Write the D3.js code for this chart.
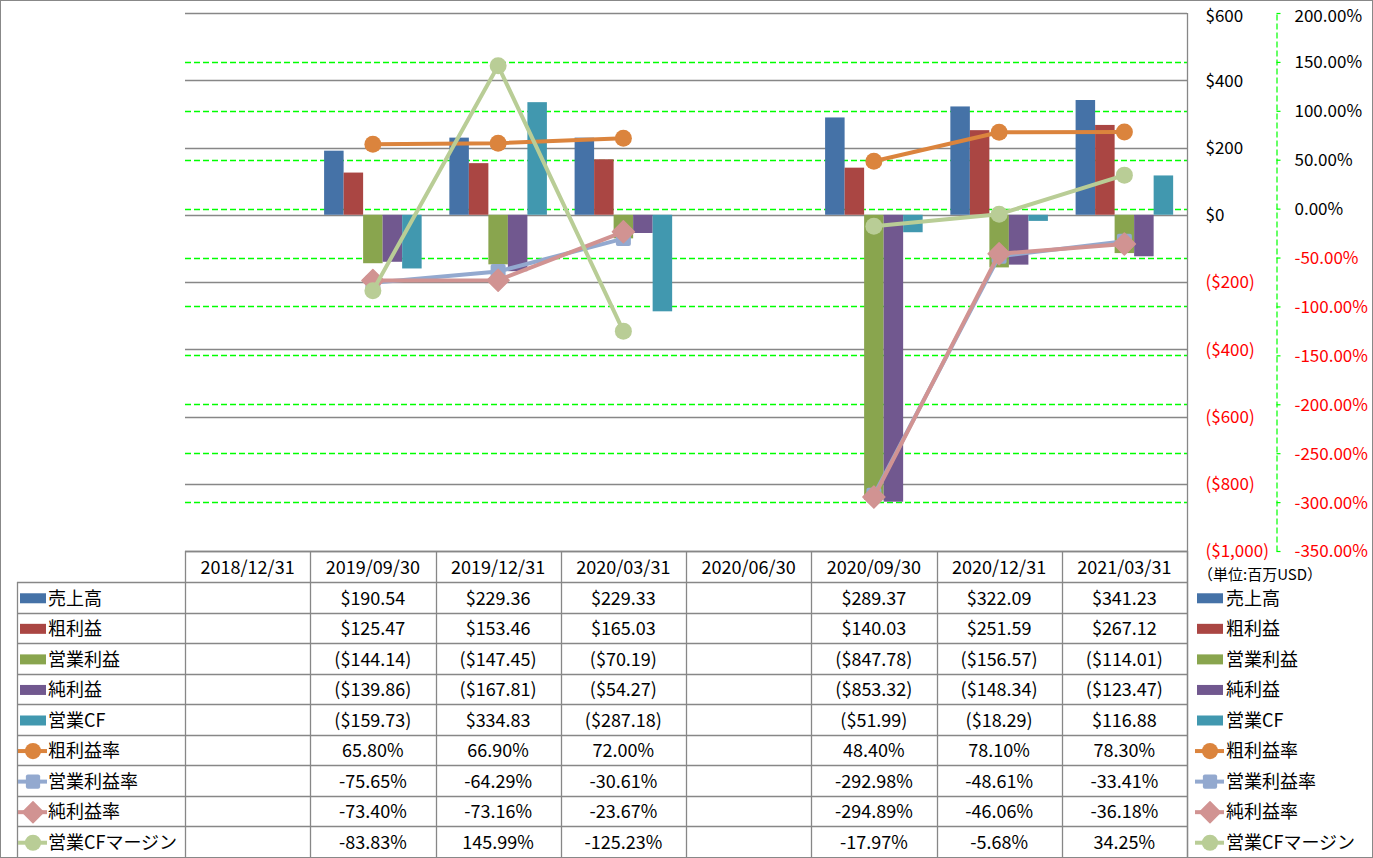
<!DOCTYPE html>
<html>
<head>
<meta charset="utf-8">
<script src="https://cdn.jsdelivr.net/npm/d3@7/dist/d3.min.js"></script>
<style>
  html, body { margin: 0; padding: 0; background: #fff; }
  svg { display: block; font-family: "Noto Sans CJK JP", "Noto Sans", sans-serif; }
</style>
</head>
<body>
<svg id="chart" width="1373" height="858"></svg>
<script>
// ---------- DATA ----------
const categories = ["2018/12/31","2019/09/30","2019/12/31","2020/03/31","2020/06/30","2020/09/30","2020/12/31","2021/03/31"];

const barSeries = ["売上高","粗利益","営業利益","純利益","営業CF"];
const sales        = [null, 190.54, 229.36, 229.33, null, 289.37, 322.09, 341.23];
const grossProfit  = [null, 125.47, 153.46, 165.03, null, 140.03, 251.59, 267.12];
const opProfit     = [null, -144.14, -147.45, -70.19, null, -847.78, -156.57, -114.01];
const netProfit    = [null, -139.86, -167.81, -54.27, null, -853.32, -148.34, -123.47];
const opCF         = [null, -159.73, 334.83, -287.18, null, -51.99, -18.29, 116.88];

const lineSeries = ["粗利益率","営業利益率","純利益率","営業CFマージン"];
const grossMargin  = [null, 65.80, 66.90, 72.00, null, 48.40, 78.10, 78.30];
const opMargin     = [null, -75.65, -64.29, -30.61, null, -292.98, -48.61, -33.41];
const netMargin    = [null, -73.40, -73.16, -23.67, null, -294.89, -46.06, -36.18];
const cfMargin     = [null, -83.83, 145.99, -125.23, null, -17.97, -5.68, 34.25];

const leftTicks  = [600, 400, 200, 0, -200, -400, -600, -800, -1000];
const rightTicks = [200, 150, 100, 50, 0, -50, -100, -150, -200, -250, -300, -350];
const unitLabel = "（単位:百万USD）";

// ---------- STYLE ----------
const barColors  = ["#4572A7","#AA4643","#89A54E","#71588F","#4198AF"];
const lineColors = ["#DB843D","#93A9CF","#D19392","#B9CD96"];
const markerTypes = ["circle","square","diamond","circle"];
const gridGray = "#878787";
const gridGreen = "#00FF00";

const svg = d3.select("#chart");
const plot = {left: 185, right: 1187, top: 13, bottom: 551};
const table = {top: 551, headerBottom: 582, bottom: 857, legendLeft: 17};

const barData = [sales, grossProfit, opProfit, netProfit, opCF];
const lineData = [grossMargin, opMargin, netMargin, cfMargin];

// outer border
svg.append("rect").attr("x",0.5).attr("y",0.5).attr("width",1372).attr("height",857)
  .attr("fill","#fff").attr("stroke","#888").attr("stroke-width",1);

// scales
const x0 = d3.scaleBand().domain(categories).range([plot.left, plot.right]).paddingInner(0).paddingOuter(0);
const x1 = d3.scaleBand().domain(barSeries).range([0, x0.bandwidth()]).paddingInner(0).paddingOuter(0.71);
const yL = d3.scaleLinear().domain([-1000, 600]).range([plot.bottom, plot.top]);
const yR = d3.scaleLinear().domain([-350, 200]).range([plot.bottom, plot.top]);

// green dashed gridlines (secondary)
svg.append("g").selectAll("line").data(rightTicks.filter(t => t !== 200 && t !== -350)).join("line")
  .attr("x1", plot.left).attr("x2", plot.right)
  .attr("y1", d => Math.round(yR(d)) + 0.5).attr("y2", d => Math.round(yR(d)) + 0.5)
  .attr("stroke", gridGreen).attr("stroke-width", 1.3).attr("stroke-dasharray", "6,3");

// gray gridlines (primary)
svg.append("g").selectAll("line").data(leftTicks).join("line")
  .attr("x1", plot.left).attr("x2", plot.right)
  .attr("y1", d => Math.round(yL(d)) + 0.5).attr("y2", d => Math.round(yL(d)) + 0.5)
  .attr("stroke", gridGray).attr("stroke-width", 1.3);

// bars
const barG = svg.append("g");
barSeries.forEach((s, si) => {
  const vals = barData[si];
  barG.append("g").selectAll("rect")
    .data(categories.map((c, i) => ({c, v: vals[i]})).filter(d => d.v !== null))
    .join("rect")
    .attr("x", d => x0(d.c) + x1(s))
    .attr("width", x1.bandwidth())
    .attr("y", d => Math.min(yL(d.v), yL(0)))
    .attr("height", d => Math.abs(yL(d.v) - yL(0)))
    .attr("fill", barColors[si]);
});

// marker drawing helper
function drawMarker(g, type, cx, cy, color, scale) {
  scale = scale || 1;
  if (type === "circle") {
    g.append("circle").attr("cx", cx).attr("cy", cy).attr("r", 8.5*scale).attr("fill", color);
  } else if (type === "square") {
    const s = 15*scale;
    g.append("rect").attr("x", cx - s/2).attr("y", cy - s/2).attr("width", s).attr("height", s)
      .attr("rx", 2).attr("fill", color);
  } else {
    const r = 11*scale;
    g.append("path").attr("d", `M${cx},${cy-r}L${cx+r},${cy}L${cx},${cy+r}L${cx-r},${cy}Z`)
      .attr("fill", color).attr("stroke", color).attr("stroke-width", 1.5).attr("stroke-linejoin","round");
  }
}

// lines
const lineG = svg.append("g");
lineSeries.forEach((s, si) => {
  const vals = lineData[si];
  const pts = categories.map((c, i) => ({c, v: vals[i]}));
  const line = d3.line().defined(d => d.v !== null)
    .x(d => x0(d.c) + x0.bandwidth()/2).y(d => yR(d.v));
  const g = lineG.append("g");
  g.append("path").datum(pts).attr("d", line).attr("fill", "none")
    .attr("stroke", lineColors[si]).attr("stroke-width", 4).attr("stroke-linejoin", "round");
  pts.filter(d => d.v !== null).forEach(d => {
    drawMarker(g, markerTypes[si], x0(d.c) + x0.bandwidth()/2, yR(d.v), lineColors[si]);
  });
});

// primary axis (right side of plot)
const axisFont = 17;
const fmtMoneyAxis = v => v < 0 ? "($" + d3.format(",")(-v) + ")" : "$" + d3.format(",")(v);
const axL = svg.append("g").attr("transform", `translate(${plot.right + 0.5},0)`)
  .call(d3.axisRight(yL).tickValues(leftTicks).tickSize(0).tickPadding(18).tickFormat(fmtMoneyAxis));
axL.select(".domain").remove();
axL.selectAll("text").attr("font-size", axisFont).attr("font-family", '"Noto Sans CJK JP", sans-serif')
  .attr("fill", d => d < 0 ? "#FF0000" : "#000")
  .attr("dy", d => d === leftTicks[0] ? "0.5em" : "0.35em");
svg.append("line").attr("x1", plot.right + 0.5).attr("x2", plot.right + 0.5)
  .attr("y1", plot.top).attr("y2", table.bottom).attr("stroke", gridGray).attr("stroke-width", 1.3);

// secondary axis
const fmtPct = v => v.toFixed(2) + "%";
const axR = svg.append("g").attr("transform", `translate(1276.5,0)`)
  .call(d3.axisRight(yR).tickValues(rightTicks).tickSizeInner(4).tickSizeOuter(0).tickPadding(14).tickFormat(fmtPct));
axR.select(".domain").attr("stroke", gridGreen).attr("stroke-width", 1.2).attr("stroke-dasharray", "6,3");
axR.selectAll(".tick line").attr("stroke", gridGreen).attr("stroke-width", 1.2);
axR.selectAll("text").attr("font-size", axisFont).attr("font-family", '"Noto Sans CJK JP", sans-serif')
  .attr("fill", d => d < 0 ? "#FF0000" : "#000")
  .attr("dy", d => d === rightTicks[0] ? "0.5em" : "0.35em");

// unit label
svg.append("text").attr("x", 1198).attr("y", 575).attr("dy", "0.35em")
  .attr("font-size", 15).attr("fill", "#000").text(unitLabel);

// ---------- DATA TABLE ----------
const tg = svg.append("g");
const nRows = barSeries.length + lineSeries.length;
const rowH = (table.bottom - table.headerBottom) / nRows;
const colEdges = categories.map(c => x0(c)).concat([plot.right]);

// horizontal lines
tg.append("line").attr("x1", plot.left).attr("x2", plot.right).attr("y1", table.top + 0.5).attr("y2", table.top + 0.5)
  .attr("stroke", gridGray).attr("stroke-width", 1.3);
d3.range(nRows).forEach(i => {
  const y = Math.round(table.headerBottom + i*rowH) + 0.5;
  tg.append("line").attr("x1", table.legendLeft).attr("x2", plot.right).attr("y1", y).attr("y2", y)
    .attr("stroke", gridGray).attr("stroke-width", 1.3);
});
// vertical lines
colEdges.forEach(x => {
  tg.append("line").attr("x1", Math.round(x) + 0.5).attr("x2", Math.round(x) + 0.5)
    .attr("y1", table.top).attr("y2", table.bottom).attr("stroke", gridGray).attr("stroke-width", 1.3);
});
tg.append("line").attr("x1", table.legendLeft + 0.5).attr("x2", table.legendLeft + 0.5)
  .attr("y1", table.headerBottom).attr("y2", table.bottom).attr("stroke", gridGray).attr("stroke-width", 1.3);

// header texts
tg.selectAll("text.hdr").data(categories).join("text").attr("class", "hdr")
  .attr("x", c => x0(c) + x0.bandwidth()/2).attr("y", (table.top + table.headerBottom)/2 + 1)
  .attr("dy", "0.35em").attr("text-anchor", "middle").attr("font-size", 18).attr("fill", "#000").text(c => c);

const fmtMoney = v => v < 0 ? "($" + d3.format(",.2f")(-v) + ")" : "$" + d3.format(",.2f")(v);
const allSeries = barSeries.concat(lineSeries);
const allData = barData.concat(lineData);
allSeries.forEach((s, ri) => {
  const yc = table.headerBottom + ri*rowH + rowH/2 + 1;
  const isBar = ri < barSeries.length;
  categories.forEach((c, ci) => {
    const v = allData[ri][ci];
    if (v === null) return;
    tg.append("text").attr("x", x0(c) + x0.bandwidth()/2).attr("y", yc).attr("dy", "0.35em")
      .attr("text-anchor", "middle").attr("font-size", 18).attr("fill", "#000")
      .text(isBar ? fmtMoney(v) : fmtPct(v));
  });
  // legends left and right
  [{sx: 20, tx: 48}, {sx: 1197, tx: 1226}].forEach(pos => {
    const lg = tg.append("g");
    if (isBar) {
      lg.append("rect").attr("x", pos.sx).attr("y", yc - 5).attr("width", 26).attr("height", 10)
        .attr("fill", barColors[ri]);
    } else {
      const li = ri - barSeries.length;
      lg.append("line").attr("x1", pos.sx - 2).attr("x2", pos.sx + 27).attr("y1", yc).attr("y2", yc)
        .attr("stroke", lineColors[li]).attr("stroke-width", 4);
      drawMarker(lg, markerTypes[li], pos.sx + 13, yc, lineColors[li], 0.95);
    }
    lg.append("text").attr("x", pos.tx).attr("y", yc).attr("dy", "0.35em")
      .attr("font-size", 18).attr("fill", "#000").text(s);
  });
});
</script>
</body>
</html>
